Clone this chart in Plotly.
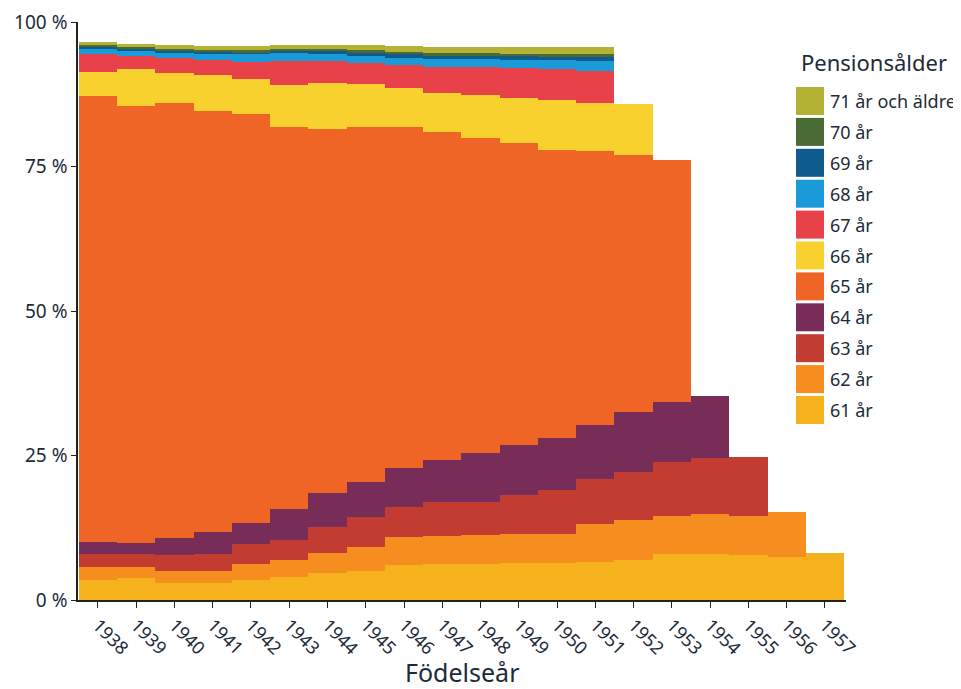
import plotly.graph_objects as go

years = list(range(1938, 1958))

ages = ["61 år", "62 år", "63 år", "64 år", "65 år", "66 år", "67 år",
        "68 år", "69 år", "70 år", "71 år och äldre"]

N = None
v61 = [3.5, 3.8, 3.0, 3.0, 3.5, 3.9, 4.6, 5.1, 6.1, 6.3, 6.3, 6.4, 6.4, 6.6, 7.0, 8.0, 8.0, 7.8, 7.5, 8.1]
v62 = [2.2, 1.9, 2.1, 2.1, 2.7, 3.1, 3.5, 4.1, 4.8, 4.8, 4.9, 5.0, 5.0, 6.5, 6.8, 6.5, 6.9, 6.7, 7.7, N]
v63 = [2.2, 2.2, 2.6, 2.9, 3.5, 3.4, 4.6, 5.2, 5.2, 5.9, 5.8, 6.8, 7.6, 7.8, 8.4, 9.4, 9.6, 10.3, N, N]
v64 = [2.2, 1.9, 3.0, 3.7, 3.6, 5.3, 5.8, 6.1, 6.7, 7.2, 8.5, 8.6, 9.1, 9.4, 10.3, 10.4, 10.8, N, N, N]
v65 = [77.1, 75.7, 75.3, 72.9, 70.7, 66.2, 63.0, 61.4, 59.0, 56.7, 54.5, 52.2, 49.8, 47.4, 44.5, 41.8, N, N, N, N]
v66 = [4.2, 6.3, 5.2, 6.3, 6.2, 7.2, 7.9, 7.3, 6.8, 6.9, 7.3, 7.8, 8.6, 8.3, 8.9, N, N, N, N, N]
v67 = [3.1, 2.4, 2.5, 2.5, 2.9, 4.2, 3.9, 3.7, 4.0, 4.5, 5.0, 5.2, 5.4, 5.6, N, N, N, N, N, N]
v68 = [0.9, 0.9, 1.0, 1.1, 1.3, 1.3, 1.2, 1.3, 1.2, 1.3, 1.3, 1.5, 1.5, 1.6, N, N, N, N, N, N]
v69 = [0.3, 0.3, 0.3, 0.4, 0.4, 0.4, 0.4, 0.5, 0.6, 0.6, 0.6, 0.6, 0.6, 0.7, N, N, N, N, N, N]
v70 = [0.3, 0.2, 0.3, 0.3, 0.3, 0.4, 0.4, 0.4, 0.4, 0.4, 0.4, 0.4, 0.4, 0.5, N, N, N, N, N, N]
v71 = [0.6, 0.6, 0.7, 0.7, 0.7, 0.6, 0.7, 0.9, 1.0, 1.0, 1.1, 1.1, 1.2, 1.3, N, N, N, N, N, N]

series = [v61, v62, v63, v64, v65, v66, v67, v68, v69, v70, v71]
colors = ["#f6b21c", "#f58d1f", "#c23c32", "#772d58", "#ef6526", "#f9d12e",
          "#e8414a", "#1a9ad9", "#0f5b8c", "#4a6b36", "#b3b234"]

y_ticks = [0, 25, 50, 75, 100]
y_labels = ["0 %", "25 %", "50 %", "75 %", "100 %"]

TXT = "#1c2b39"
FONT = "Noto Sans"

fig = go.Figure()
for name, vals, col in zip(ages, series, colors):
    fig.add_trace(go.Bar(x=years, y=vals, name=name, marker_color=col,
                         marker_line_width=0, showlegend=False))

# page body has an 8px margin; design in screen pixels
OFF = 8
W, H = 961 - OFF, 689 - OFF
ML, MT = 78 - OFF, 22 - OFF
pw, ph = 768, 578
MR, MB = W - ML - pw, H - MT - ph

def px(sx):
    return (sx - OFF - ML) / pw

def py(sy):
    return (MT + ph - (sy - OFF)) / ph

shapes = []
annotations = []
annotations.append(dict(x=px(799), y=py(62), xref="paper", yref="paper",
                        text="Pensionsålder", showarrow=False, xanchor="left",
                        yanchor="middle", font=dict(size=22, color=TXT, family=FONT)))
legend_order = list(zip(ages, colors))[::-1]
for i, (name, col) in enumerate(legend_order):
    cy = 101 + i * 30.9
    shapes.append(dict(type="rect", xref="paper", yref="paper",
                       x0=px(796), x1=px(824), y0=py(cy - 14), y1=py(cy + 14),
                       fillcolor=col, line_width=0))
    annotations.append(dict(x=px(828), y=py(cy), xref="paper", yref="paper",
                            text=name, showarrow=False, xanchor="left",
                            yanchor="middle", font=dict(size=18, color=TXT, family=FONT)))

annotations.append(dict(x=px(462), y=py(672), xref="paper", yref="paper",
                        text="Födelseår", showarrow=False, xanchor="center",
                        yanchor="middle", font=dict(size=25, color=TXT, family=FONT)))

fig.update_layout(
    width=W, height=H,
    margin=dict(l=ML, r=MR, t=MT, b=MB),
    barmode="stack", bargap=0,
    plot_bgcolor="white", paper_bgcolor="white",
    font=dict(family=FONT, color=TXT),
    shapes=shapes, annotations=annotations,
    xaxis=dict(range=[1937.48, 1957.55], tickmode="array", tickvals=years,
               ticktext=[str(y) for y in years], tickangle=45, automargin=False,
               ticks="outside", ticklen=6, tickcolor="#222", showgrid=False,
               showline=True, linecolor="#222", linewidth=1.5, zeroline=False,
               tickfont=dict(size=18, color=TXT)),
    yaxis=dict(range=[0, 100], tickmode="array", tickvals=y_ticks, ticktext=y_labels,
               ticks="outside", ticklen=5, tickcolor="#222", showgrid=False,
               automargin=False,
               showline=True, linecolor="#222", linewidth=1.5, zeroline=False,
               tickfont=dict(size=19, color=TXT)),
)

fig.write_html("out.html")
